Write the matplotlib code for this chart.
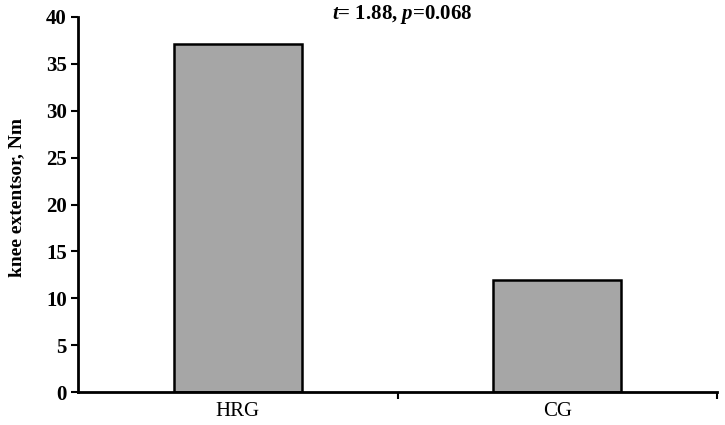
import matplotlib
matplotlib.use('Agg')
import matplotlib.pyplot as plt

# Datos
groups = ['HRG', 'CG']
values = [37.1, 12.0]
y_ticks = [0, 5, 10, 15, 20, 25, 30, 35, 40]

plt.rcParams['font.family'] = 'Liberation Serif'
plt.rcParams['mathtext.fontset'] = 'custom'
plt.rcParams['mathtext.it'] = 'Liberation Serif:italic:bold'
plt.rcParams['mathtext.rm'] = 'Liberation Serif:bold'

fig = plt.figure(figsize=(7.25, 4.25), dpi=100)
ax = fig.add_axes([0.1076, 0.0776, 0.8814, 0.8824])

pos = list(range(len(groups)))
ax.bar(pos, values, width=0.4, color='#a6a6a6', edgecolor='black', linewidth=1.8, zorder=2)

ax.set_xlim(-0.5, len(groups) - 0.5)
ax.set_ylim(0, 40)
ax.set_yticks(y_ticks)
ax.set_yticklabels([str(v) for v in y_ticks], fontsize=15, fontweight='bold')

# ticks no limite das categorias, rótulos no centro
ax.set_xticks([p + 0.5 for p in pos])
ax.set_xticklabels([])
ax.set_xticks(pos, minor=True)
ax.set_xticklabels(groups, minor=True, fontsize=15)
ax.tick_params(axis='x', which='minor', length=0, pad=7)
ax.tick_params(axis='x', which='major', length=5, width=1.5, direction='out')
ax.tick_params(axis='y', length=5, width=1.5, direction='out', pad=3)

for s in ['top', 'right']:
    ax.spines[s].set_visible(False)
for s in ['left', 'bottom']:
    ax.spines[s].set_linewidth(2)

ax.set_ylabel('knee extentsor, Nm', fontsize=14, fontweight='bold')
ax.yaxis.set_label_coords(-0.083, 0.52)

fig.text(0.555, 0.967, '$t$= 1.88, $p$=0.068', ha='center', va='center',
         fontsize=15, fontweight='bold')

plt.savefig('out.png', dpi=100)
